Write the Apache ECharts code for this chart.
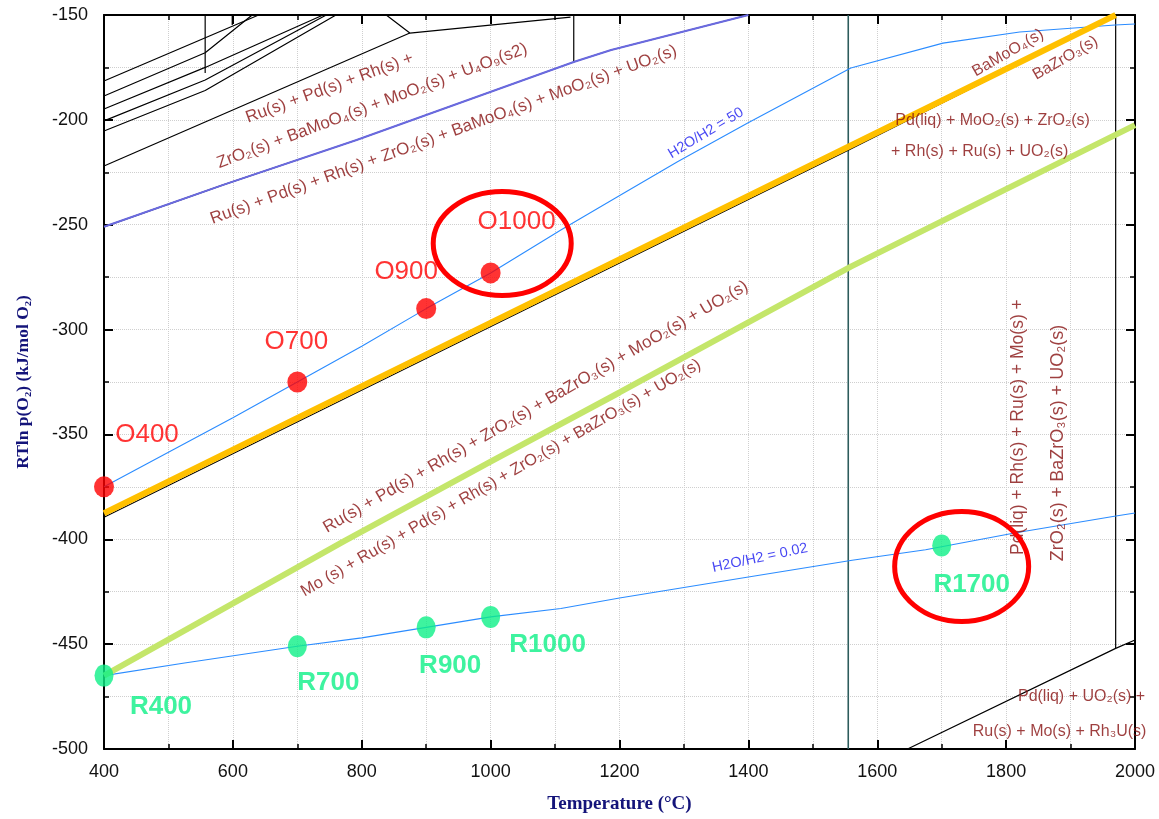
<!DOCTYPE html>
<html>
<head>
<meta charset="utf-8">
<title>RTln p(O2) vs Temperature</title>
<script src="https://cdn.jsdelivr.net/npm/echarts@6/dist/echarts.min.js"></script>
<style>
    html, body { margin: 0; padding: 0; background: #fff; }
    #main { width: 1159px; height: 819px; }
</style>
</head>
<body>
<div id="main"></div>
<script>
// 氧化气氛下的点 (温度 °C, RTln pO2 kJ/mol)
var oxName = ['O400', 'O700', 'O900', 'O1000'];
var oxTemp = [400, 700, 900, 1000];
var oxVal = [-375, -325, -290, -273];

// 还原气氛下的点
var redName = ['R400', 'R700', 'R900', 'R1000', 'R1700'];
var redTemp = [400, 700, 900, 1000, 1700];
var redVal = [-465, -451, -442, -437, -403];

// H2O/H2 = 50
var h50Temp = [400, 600, 700, 800, 900, 1000, 1109, 1197, 1290, 1399, 1559, 1702, 1821, 1969, 2000];
var h50Val = [-375, -342, -325, -308, -290, -273, -252.5, -236.7, -220, -201.5, -175.3, -163.4, -158.1, -154.8, -154.3];

// H2O/H2 = 0.02
var h002Temp = [400, 525, 700, 800, 900, 1000, 1109, 1200, 1400, 1561, 1675, 1813, 1968, 2000];
var h002Val = [-465, -459, -451, -447, -442, -437, -433, -428, -418, -410, -405, -397, -389, -387.5];

// BaMoO4 / BaZrO3 边界 (橙色) 和下面的黑线
var orangeTemp = [400, 1555, 1970];
var orangeVal = [-387.6, -212.8, -150];
var orangeEdgeTemp = [400, 1555, 1972];
var orangeEdgeVal = [-389.5, -214.5, -150];

// Mo / MoO2 边界 (绿色)
var greenTemp = [400, 772, 1000, 1200, 1559, 1800, 2000];
var greenVal = [-465, -401, -363, -330, -270, -233, -202.5];

// U4O9 边界 (紫色)
var purpleTemp = [400, 585, 792, 1130, 1187, 1400];
var purpleVal = [-251, -231, -209.6, -172.3, -166.7, -150];

// 其他黑色相界线
var blackLines = [
    [[400, -181.5], [640, -150]],
    [[400, -188.6], [557, -168], [630, -150]],
    [[400, -194.8], [557, -175], [740, -150]],
    [[400, -200.5], [557, -181], [745, -150]],
    [[400, -205.3], [557, -186], [760, -150]],
    [[400, -222], [874.6, -158.6]],
    [[838, -150], [874.6, -158.6], [1124, -151]],
    [[557, -150], [557, -177.7]],
    [[599, -150], [599, -154.8]],
    [[1129, -150], [1129, -172]],
    [[1970, -150], [1970, -452]],
    [[1647, -500], [1970, -452], [2000, -448]]
];
// Pd 熔点
var pdMeltTemp = 1555;

// 圆圈标注中心
var ringO = [1018, -259];
var ringR = [1731, -413];

// 区域文字 [温度, 值, 文字]
var notes = [
    [750, -184.8, 'Ru(s) + Pd(s) + Rh(s) +'],
    [816, -193.4, 'ZrO\u2082(s) + BaMoO\u2084(s) + MoO\u2082(s) + U\u2084O\u2089(s2)'],
    [927, -207.2, 'Ru(s) + Pd(s) + Rh(s) + ZrO\u2082(s) + BaMoO\u2084(s) + MoO\u2082(s) + UO\u2082(s)'],
    [1803, -168.1, 'BaMoO\u2084(s)'],
    [1892, -170.6, 'BaZrO\u2083(s)'],
    [1779, -200.5, 'Pd(liq) + MoO\u2082(s) + ZrO\u2082(s)'],
    [1759, -215.3, '+ Rh(s) + Ru(s) + UO\u2082(s)'],
    [1070, -336.9, 'Ru(s) + Pd(s) + Rh(s) + ZrO\u2082(s) + BaZrO\u2083(s) + MoO\u2082(s) + UO\u2082(s)'],
    [1016, -370.8, 'Mo (s) + Ru(s) + Pd(s) + Rh(s) + ZrO\u2082(s) + BaZrO\u2083(s) + UO\u2082(s)'],
    [1819, -346.5, 'Pd(liq) + Rh(s) + Ru(s) + Mo(s) +'],
    [1880, -354.1, 'ZrO\u2082(s) + BaZrO\u2083(s) + UO\u2082(s)'],
    [1917, -475.2, 'Pd(liq) + UO\u2082(s) +'],
    [1883, -491.9, 'Ru(s) + Mo(s) + Rh\u2083U(s)']
];
var noteAngle = [20, 20.5, 20, 30, 30, 0, 0, 30, 30, 90, 90, 0, 0];
var noteSize = [17, 17, 17, 16, 16, 16, 16, 17, 16.5, 17.5, 18, 16, 16];

var gasNotes = [
    [1334, -206.3, 'H2O/H2 = 50'],
    [1418, -408.9, 'H2O/H2 = 0.02']
];
var gasAngle = [31, 12];

// 点标签偏移
var oxOffset = [[43, -52], [-1, -40], [-20, -37], [26, -51]];
var redOffset = [[57, 31], [31, 37], [24, 38], [57, 28], [30, 39]];

var fontSans = 'Liberation Sans, Arial, DejaVu Sans, sans-serif';
var fontSerif = 'Liberation Serif, Times New Roman, DejaVu Serif, serif';
var noteColor = '#860f0f';

function zip(a, b) {
    return a.map(function (v, i) { return [v, b[i]]; });
}

function lineSeries(data, color, width, z) {
    return {
        type: 'line',
        data: data,
        showSymbol: false,
        symbol: 'none',
        silent: true,
        z: z,
        lineStyle: { color: color, width: width },
        animation: false
    };
}

var series = [];
for (var i = 0; i < blackLines.length; i++) {
    series.push(lineSeries(blackLines[i], '#000', 1.2, 3));
}
series.push(lineSeries([[pdMeltTemp, -500], [pdMeltTemp, -150]], '#2d5c5c', 1.6, 3));
series.push(lineSeries(zip(purpleTemp, purpleVal), '#000', 1.2, 3));
series.push(lineSeries(zip(purpleTemp, purpleVal), '#6a6ae0', 2, 4));
series.push(lineSeries(zip(h50Temp, h50Val), '#2b8cff', 1.1, 4));
series.push(lineSeries(zip(h002Temp, h002Val), '#2b8cff', 1.1, 4));
series.push(lineSeries(zip(orangeEdgeTemp, orangeEdgeVal), '#000', 1.2, 4));
series.push(lineSeries(zip(orangeTemp, orangeVal), '#ffc000', 6, 5));
series.push(lineSeries(zip(greenTemp, greenVal), '#c4e66a', 6, 5));

// 区域文字
series.push({
    type: 'scatter',
    symbolSize: 0,
    silent: true,
    z: 6,
    clip: false,
    data: notes.map(function (n, i) {
        return {
            value: [n[0], n[1]],
            label: {
                show: true,
                position: 'inside',
                formatter: n[2],
                rotate: noteAngle[i],
                color: noteColor,
                fontSize: noteSize[i],
                fontFamily: fontSans
            }
        };
    })
});
series.push({
    type: 'scatter',
    symbolSize: 0,
    silent: true,
    z: 6,
    data: gasNotes.map(function (n, i) {
        return {
            value: [n[0], n[1]],
            label: {
                show: true,
                position: 'inside',
                formatter: n[2],
                rotate: gasAngle[i],
                color: '#1818f0',
                fontSize: 14.5,
                fontFamily: fontSans
            }
        };
    })
});

// 氧化点
series.push({
    type: 'scatter',
    symbol: 'circle',
    symbolSize: [20, 21],
    clip: false,
    z: 8,
    itemStyle: { color: '#ff0000' },
    data: oxTemp.map(function (t, i) {
        return {
            value: [t, oxVal[i]],
            label: {
                show: true,
                position: 'inside',
                offset: oxOffset[i],
                formatter: oxName[i],
                color: '#ff0000',
                fontSize: 26,
                fontFamily: fontSans
            }
        };
    })
});
// 还原点
series.push({
    type: 'scatter',
    symbol: 'circle',
    symbolSize: [19, 22],
    clip: false,
    z: 8,
    itemStyle: { color: '#0ef087' },
    data: redTemp.map(function (t, i) {
        return {
            value: [t, redVal[i]],
            label: {
                show: true,
                position: 'inside',
                offset: redOffset[i],
                formatter: redName[i],
                color: '#0ef087',
                fontSize: 26,
                fontWeight: 'bold',
                fontFamily: fontSans
            }
        };
    })
});

var gridLine = { show: true, lineStyle: { color: '#cfcfcf', type: 'dotted', width: 1 } };
function plainNum(v) { return String(v); }

var option = {
    backgroundColor: '#fff',
    animation: false,
    grid: { left: 104, right: 24, top: 15, bottom: 70 },
    xAxis: [
        {
            type: 'value',
            min: 400,
            max: 2000,
            interval: 200,
            name: 'Temperature (\u00b0C)',
            nameLocation: 'middle',
            nameGap: 46,
            nameTextStyle: { color: '#14147a', fontSize: 19, fontWeight: 'bold', fontFamily: fontSerif },
            axisLine: { onZero: false, lineStyle: { color: '#000', width: 2 } },
            axisTick: { inside: true, length: 9, lineStyle: { color: '#000', width: 2 } },
            minorTick: { show: true, splitNumber: 2, length: 5, lineStyle: { color: '#000', width: 1.5 } },
            axisLabel: { color: '#111', fontSize: 18, margin: 14, fontFamily: fontSans, formatter: plainNum },
            splitLine: gridLine,
            minorSplitLine: gridLine
        },
        {
            type: 'value',
            position: 'top',
            min: 400,
            max: 2000,
            interval: 200,
            axisLine: { onZero: false, lineStyle: { color: '#000', width: 2 } },
            axisTick: { inside: true, length: 9, lineStyle: { color: '#000', width: 2 } },
            minorTick: { show: true, splitNumber: 2, length: 5, lineStyle: { color: '#000', width: 1.5 } },
            axisLabel: { show: false },
            splitLine: { show: false }
        }
    ],
    yAxis: [
        {
            type: 'value',
            min: -500,
            max: -150,
            interval: 50,
            name: 'RTln p(O\u2082) (kJ/mol O\u2082)',
            nameLocation: 'middle',
            nameGap: 72,
            nameTextStyle: { color: '#14147a', fontSize: 17.5, fontWeight: 'bold', fontFamily: fontSerif },
            axisLine: { onZero: false, lineStyle: { color: '#000', width: 2 } },
            axisTick: { inside: true, length: 9, lineStyle: { color: '#000', width: 2 } },
            minorTick: { show: true, splitNumber: 2, length: 5, lineStyle: { color: '#000', width: 1.5 } },
            axisLabel: { color: '#111', fontSize: 18, margin: 16, fontFamily: fontSans, formatter: plainNum },
            splitLine: gridLine,
            minorSplitLine: gridLine
        },
        {
            type: 'value',
            position: 'right',
            min: -500,
            max: -150,
            interval: 50,
            axisLine: { onZero: false, lineStyle: { color: '#000', width: 2 } },
            axisTick: { inside: true, length: 9, lineStyle: { color: '#000', width: 2 } },
            minorTick: { show: true, splitNumber: 2, length: 5, lineStyle: { color: '#000', width: 1.5 } },
            axisLabel: { show: false },
            splitLine: { show: false }
        }
    ],
    series: series
};

var chart = echarts.init(document.getElementById('main'));
chart.setOption(option);

// 红色圆圈标注
var p1 = chart.convertToPixel({ gridIndex: 0 }, ringO);
var p2 = chart.convertToPixel({ gridIndex: 0 }, ringR);
chart.setOption({
    graphic: [
        {
            type: 'ellipse',
            z: 100,
            silent: true,
            shape: { cx: p1[0], cy: p1[1], rx: 69, ry: 52 },
            style: { fill: 'none', stroke: '#ff0000', lineWidth: 5 }
        },
        {
            type: 'ellipse',
            z: 100,
            silent: true,
            shape: { cx: p2[0], cy: p2[1], rx: 67, ry: 55 },
            style: { fill: 'none', stroke: '#ff0000', lineWidth: 5 }
        }
    ]
});
</script>
</body>
</html>
